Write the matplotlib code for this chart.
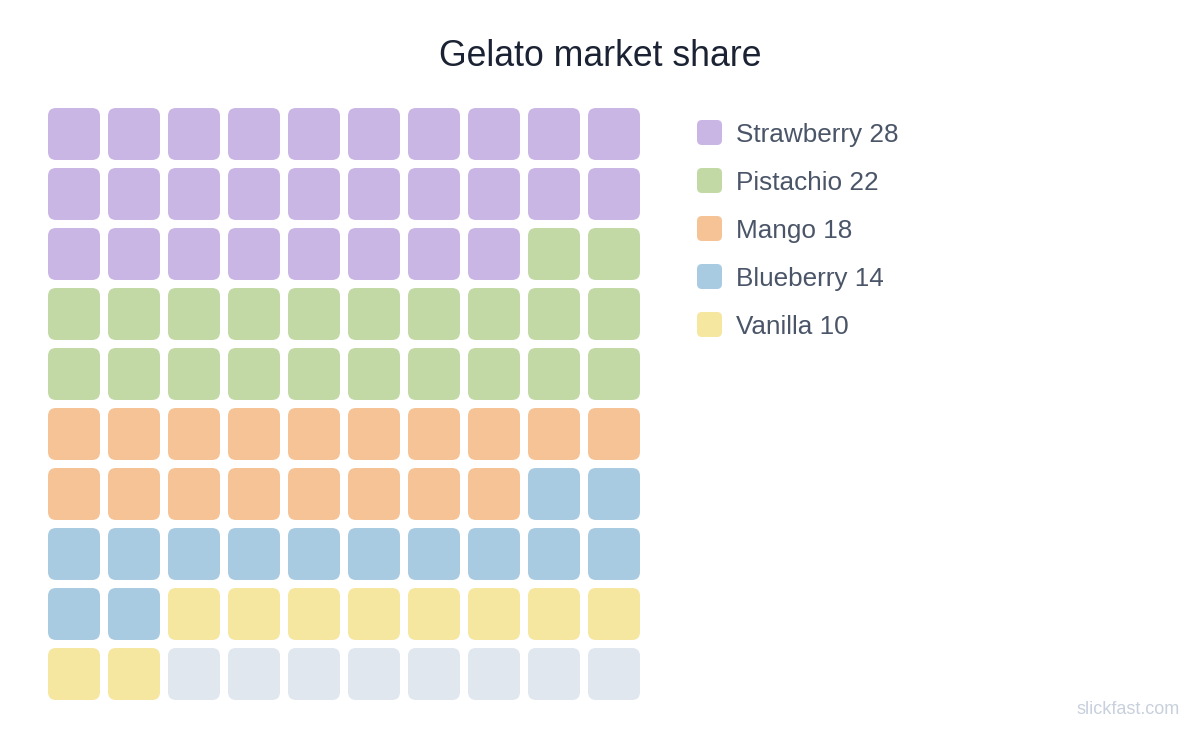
import matplotlib.pyplot as plt
from matplotlib.patches import FancyBboxPatch

flavors = ['Strawberry', 'Pistachio', 'Mango', 'Blueberry', 'Vanilla']
counts = [28, 22, 18, 14, 10]
colors = ['#c9b6e4', '#c2d9a6', '#f5c396', '#a9cbe2', '#f5e6a0']
empty_color = '#e1e7ef'
n_rows, n_cols = 10, 10

plt.rcParams['font.family'] = ['Liberation Sans', 'DejaVu Sans']

fig = plt.figure(figsize=(12, 7.32), dpi=100)
ax = fig.add_axes([0, 0, 1, 1])
ax.set_xlim(0, 1200)
ax.set_ylim(732, 0)
ax.axis('off')

# one color per cell, filled row by row
cell_colors = []
for c, n in zip(colors, counts):
    cell_colors += [c] * n
cell_colors += [empty_color] * (n_rows * n_cols - len(cell_colors))

x0, y0, size, pitch, r = 48, 108, 52, 60, 8
for i, c in enumerate(cell_colors):
    row, col = divmod(i, n_cols)
    ax.add_patch(FancyBboxPatch((x0 + col * pitch + r, y0 + row * pitch + r),
                                size - 2 * r, size - 2 * r,
                                boxstyle=f'round,pad={r}', fc=c, ec='none'))

# legend
for k, (name, n, c) in enumerate(zip(flavors, counts, colors)):
    cy = 132.5 + k * 48
    ax.add_patch(FancyBboxPatch((697 + 5, cy - 12.5 + 5), 15, 15,
                                boxstyle='round,pad=5', fc=c, ec='none'))
    ax.text(736, cy + 9.5, f'{name} {n}', fontsize=18.8, color='#4a5568',
            va='baseline', ha='left')

ax.text(600, 66, 'Gelato market share', fontsize=25.7, color='#1a2233',
        ha='center', va='baseline')
ax.text(1180, 714, 'slickfast.com', fontsize=13, color='#c8d0dc',
        ha='right', va='baseline')

fig.savefig('out.png', dpi=100, facecolor='white')
